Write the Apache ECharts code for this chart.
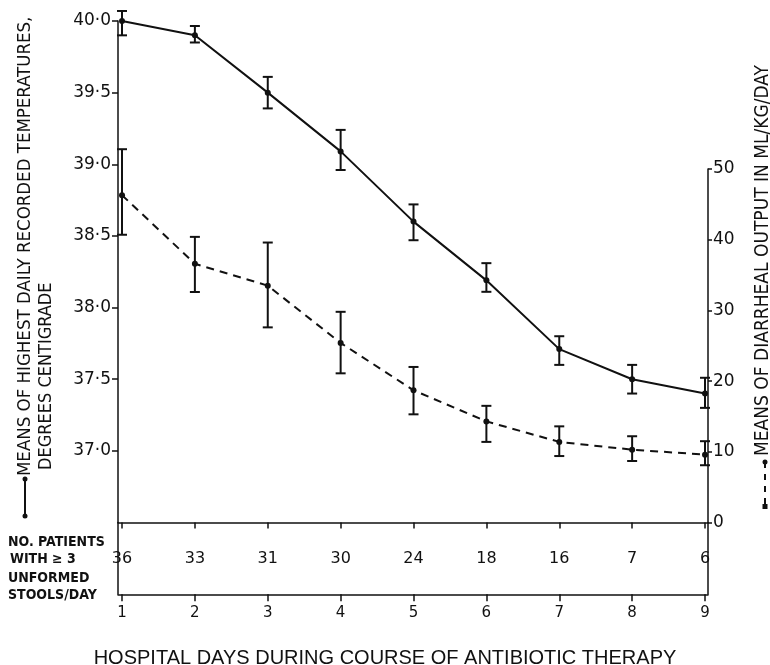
<!DOCTYPE html>
<html>
<head>
<meta charset="utf-8">
<script src="https://cdn.jsdelivr.net/npm/echarts@6/dist/echarts.min.js"></script>
<style>
html, body { margin: 0; padding: 0; background: #fff; }
#chart { width: 770px; height: 665px; }
</style>
</head>
<body>
<div id="chart"></div>
<script>
// hospital days
var days = [1, 2, 3, 4, 5, 6, 7, 8, 9];
// highest daily temperature, degrees C (mean and error bar ends)
var tempMean = [40.0, 39.9, 39.5, 39.09, 38.6, 38.19, 37.71, 37.5, 37.4];
var tempLow = [39.9, 39.85, 39.39, 38.96, 38.47, 38.11, 37.6, 37.4, 37.3];
var tempHigh = [40.07, 39.965, 39.61, 39.24, 38.72, 38.31, 37.8, 37.6, 37.51];
// diarrheal output, ml/kg/day
var stoolMean = [46.3, 36.6, 33.5, 25.4, 18.7, 14.3, 11.4, 10.3, 9.6];
var stoolLow = [40.7, 32.6, 27.6, 21.1, 15.3, 11.4, 9.4, 8.7, 8.1];
var stoolHigh = [52.8, 40.4, 39.6, 29.8, 22.0, 16.5, 13.6, 12.2, 11.5];
// no. patients with >= 3 unformed stools/day
var patients = [36, 33, 31, 30, 24, 18, 16, 7, 6];
// tick labels
var tempTicks = [37, 37.5, 38, 38.5, 39, 39.5, 40];
var stoolTicks = [0, 10, 20, 30, 40, 50];

var ink = "#111";
var tickFont = "DejaVu Sans";
var letterFont = "'DejaVu Sans Condensed', 'Liberation Sans Narrow', 'DejaVu Sans', sans-serif";

function pairs(ys) {
    return days.map(function (d, i) { return [d, ys[i]]; });
}
function bars(lo, hi) {
    return days.map(function (d, i) { return [d, lo[i], hi[i]]; });
}

// error bar with caps, drawn through the axis scales
function errorBar(params, api) {
    var x = api.value(0);
    var lo = api.coord([x, api.value(1)]);
    var hi = api.coord([x, api.value(2)]);
    var half = 5;
    var st = { stroke: ink, lineWidth: 2 };
    return {
        type: "group",
        children: [
            { type: "line", shape: { x1: lo[0], y1: lo[1], x2: hi[0], y2: hi[1] }, style: st },
            { type: "line", shape: { x1: lo[0] - half, y1: lo[1], x2: lo[0] + half, y2: lo[1] }, style: st },
            { type: "line", shape: { x1: hi[0] - half, y1: hi[1], x2: hi[0] + half, y2: hi[1] }, style: st },
        ],
    };
}

var xBase = {
    type: "value",
    min: 0.945,
    max: 9.041,
    splitLine: { show: false },
};

var chart = echarts.init(document.getElementById("chart"));
var option = {
    animation: false,
    backgroundColor: "#fff",
    title: {
        text: "HOSPITAL DAYS DURING COURSE OF ANTIBIOTIC THERAPY",
        left: "center",
        top: 643,
        textStyle: { fontFamily: "Liberation Sans", fontWeight: "normal", fontSize: 20, color: ink },
    },
    grid: [
        { left: 118, right: 62, top: 21, bottom: 142.5 },
        { left: 118, right: 62, top: 522.5, bottom: 70.7 },
        { left: 118, right: 62, top: 169, bottom: 142.5 },
    ],
    xAxis: [
        Object.assign({}, xBase, {
            gridIndex: 0,
            axisLine: { show: true, lineStyle: { color: ink, width: 1.5 } },
            axisTick: { show: true, customValues: days, length: 6, lineStyle: { color: ink, width: 1.5 } },
            axisLabel: { show: false },
        }),
        Object.assign({}, xBase, {
            gridIndex: 1,
            axisLine: { show: true, lineStyle: { color: ink, width: 1.5 } },
            axisTick: { show: true, customValues: days, length: 7, lineStyle: { color: ink, width: 1.5 } },
            axisLabel: { show: true, customValues: days, margin: 11, color: ink, fontSize: 15, fontFamily: tickFont },
        }),
        Object.assign({}, xBase, { gridIndex: 2, show: false }),
    ],
    yAxis: [
        {
            type: "value",
            gridIndex: 0,
            min: 36.5,
            max: 40,
            interval: 0.5,
            splitLine: { show: false },
            axisLine: { show: true, lineStyle: { color: ink, width: 1.5 } },
            axisTick: { show: true, customValues: tempTicks, length: 6, lineStyle: { color: ink, width: 1.5 } },
            axisLabel: {
                show: true,
                customValues: tempTicks,
                margin: 7,
                color: ink,
                fontSize: 17,
                fontFamily: tickFont,
                formatter: function (v) { return v.toFixed(1).replace(".", "\u00b7"); },
            },
        },
        {
            type: "value",
            gridIndex: 1,
            position: "left",
            min: 0,
            max: 1,
            splitLine: { show: false },
            axisLine: { show: true, lineStyle: { color: ink, width: 1.5 } },
            axisTick: { show: false },
            axisLabel: { show: false },
        },
        {
            type: "value",
            gridIndex: 1,
            position: "right",
            min: 0,
            max: 1,
            splitLine: { show: false },
            axisLine: { show: true, lineStyle: { color: ink, width: 1.5 } },
            axisTick: { show: false },
            axisLabel: { show: false },
        },
        {
            type: "value",
            gridIndex: 2,
            position: "right",
            min: 0,
            max: 50,
            interval: 10,
            splitLine: { show: false },
            axisLine: { show: true, lineStyle: { color: ink, width: 1.5 } },
            axisTick: { show: true, customValues: stoolTicks, length: 4, lineStyle: { color: ink, width: 1.5 } },
            axisLabel: { show: true, customValues: stoolTicks, margin: 5, color: ink, fontSize: 17, fontFamily: tickFont },
        },
    ],
    series: [
        {
            name: "temperature",
            type: "line",
            xAxisIndex: 0,
            yAxisIndex: 0,
            data: pairs(tempMean),
            symbol: "circle",
            symbolSize: 6,
            itemStyle: { color: ink },
            lineStyle: { color: ink, width: 2 },
            z: 3,
        },
        {
            name: "temperature range",
            type: "custom",
            xAxisIndex: 0,
            yAxisIndex: 0,
            renderItem: errorBar,
            encode: { x: 0, y: [1, 2] },
            data: bars(tempLow, tempHigh),
            clip: false,
            z: 2,
        },
        {
            name: "diarrheal output",
            type: "line",
            xAxisIndex: 2,
            yAxisIndex: 3,
            data: pairs(stoolMean),
            symbol: "circle",
            symbolSize: 6,
            clip: false,
            itemStyle: { color: ink },
            lineStyle: { color: ink, width: 2, type: [8, 6] },
            z: 3,
        },
        {
            name: "diarrheal range",
            type: "custom",
            xAxisIndex: 2,
            yAxisIndex: 3,
            renderItem: errorBar,
            encode: { x: 0, y: [1, 2] },
            data: bars(stoolLow, stoolHigh),
            clip: false,
            z: 2,
        },
        {
            name: "patients",
            type: "scatter",
            xAxisIndex: 1,
            yAxisIndex: 1,
            symbolSize: 1,
            clip: false,
            itemStyle: { color: "rgba(0,0,0,0)", opacity: 1 },
            data: days.map(function (d, i) { return [d, 0.5, patients[i]]; }),
            label: {
                show: true,
                position: "inside",
                color: ink,
                fontSize: 16,
                fontFamily: tickFont,
                formatter: function (p) { return String(p.value[2]); },
            },
        },
    ],
    graphic: [
        // left axis title
        {
            type: "text", x: 25, y: 476, rotation: Math.PI / 2,
            style: { text: "MEANS OF HIGHEST DAILY RECORDED TEMPERATURES,", font: "18.5px " + letterFont, fill: ink, textAlign: "left", textVerticalAlign: "middle" },
        },
        {
            type: "text", x: 46, y: 470, rotation: Math.PI / 2,
            style: { text: "DEGREES CENTIGRADE", font: "18px " + letterFont, fill: ink, textAlign: "left", textVerticalAlign: "middle" },
        },
        { type: "line", shape: { x1: 25, y1: 479, x2: 25, y2: 516 }, style: { stroke: ink, lineWidth: 2 } },
        { type: "circle", shape: { cx: 25, cy: 479, r: 2.5 }, style: { fill: ink } },
        { type: "circle", shape: { cx: 25, cy: 516, r: 2.5 }, style: { fill: ink } },
        // right axis title
        {
            type: "text", x: 763, y: 456, rotation: Math.PI / 2,
            style: { text: "MEANS OF DIARRHEAL OUTPUT IN ML/KG/DAY", font: "19px " + letterFont, fill: ink, textAlign: "left", textVerticalAlign: "middle" },
        },
        { type: "line", shape: { x1: 765, y1: 504, x2: 765, y2: 463 }, style: { stroke: ink, lineWidth: 2, lineDash: [6, 6] } },
        { type: "circle", shape: { cx: 765, cy: 462, r: 2.5 }, style: { fill: ink } },
        { type: "rect", shape: { x: 762.5, y: 504, width: 5, height: 5 }, style: { fill: ink } },
        // table row label
        {
            type: "text", x: 8, y: 542,
            style: { text: "NO. PATIENTS", font: "bold 14px " + letterFont, fill: ink, textAlign: "left", textVerticalAlign: "middle" },
        },
        {
            type: "text", x: 10, y: 559,
            style: { text: "WITH \u2265 3", font: "bold 14px " + letterFont, fill: ink, textAlign: "left", textVerticalAlign: "middle" },
        },
        {
            type: "text", x: 8, y: 578,
            style: { text: "UNFORMED", font: "bold 14px " + letterFont, fill: ink, textAlign: "left", textVerticalAlign: "middle" },
        },
        {
            type: "text", x: 8, y: 595,
            style: { text: "STOOLS/DAY", font: "bold 14px " + letterFont, fill: ink, textAlign: "left", textVerticalAlign: "middle" },
        },
    ],
};
chart.setOption(option);
window.addEventListener("resize", function () {
    chart.resize();
});
</script>
</body>
</html>
